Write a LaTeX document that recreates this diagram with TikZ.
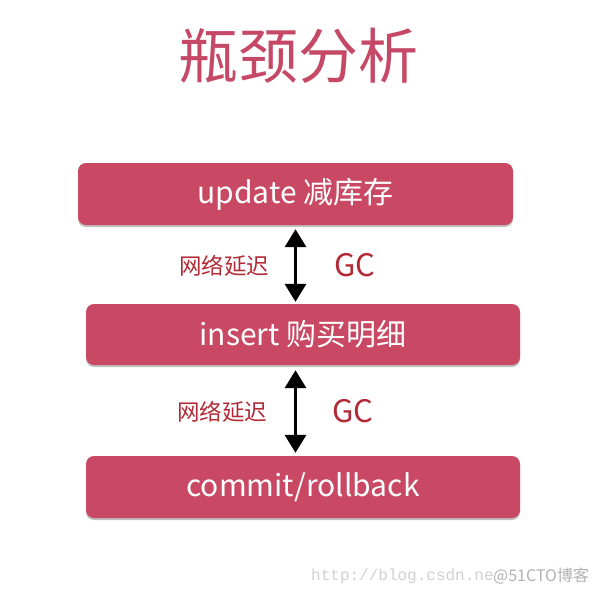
\documentclass[tikz,border=0pt]{standalone}
\usepackage{fontspec}
\setmainfont{Noto Sans CJK SC}
\newfontfamily\cjk{Noto Sans CJK SC}
\newfontfamily\wmono{Liberation Mono}
\usetikzlibrary{arrows.meta,shadows}
\definecolor{boxred}{HTML}{C94964}
\definecolor{titlered}{HTML}{C64867}
\definecolor{labelred}{HTML}{B22A35}
\tikzset{
  stagebox/.style={fill=boxred, rounded corners=8pt, text=white,
    font=\cjk\fontsize{30}{34}\selectfont,
    minimum width=434pt, minimum height=61pt, inner sep=0pt,
    drop shadow={shadow xshift=0pt, shadow yshift=-2pt, opacity=0.25, fill=black}},
  dblarrow/.style={line width=3.5pt, {Triangle[width=21pt,length=18pt]}-{Triangle[width=21pt,length=18pt]}},
  latlabel/.style={text=labelred, font=\cjk\fontsize{22.5}{26}\selectfont, inner sep=0pt},
  gclabel/.style={text=labelred, font=\cjk\fontsize{31}{34}\selectfont, inner sep=0pt}
}
\begin{document}
\begin{tikzpicture}[x=1pt,y=-1pt]
\useasboundingbox[fill=white] (0,0) rectangle (602,595);
\node[text=titlered, font=\cjk\fontsize{60}{66}\selectfont, inner sep=0pt] (title) at (298,56) {瓶颈分析};
\node[stagebox, minimum width=435pt, minimum height=62pt] (box1) at (295.5,194) {update 减库存};
\node[stagebox] (box2) at (303,334.5) {insert 购买明细};
\node[stagebox, minimum height=62pt] (box3) at (303,487) {commit/rollback};
\draw[dblarrow] ([yshift=-4pt]box1.south) -- ([yshift=2pt]box2.north -| box1.south);
\draw[dblarrow] ([yshift=-5pt]box2.south -| box1.south) -- ([yshift=3pt]box3.north -| box1.south);
\node[latlabel] (lat1) at (224,266) {网络延迟};
\node[gclabel] (gc1) at (355,265) {GC};
\node[latlabel] (lat2) at (222,412) {网络延迟};
\node[gclabel] (gc2) at (353,411) {GC};
\node[text=black!18, font=\wmono\fontsize{16}{19}\selectfont, anchor=west, inner sep=0pt] (wm1) at (311,576) {http://blog.csdn.ne};
\node[text=black!30, font=\cjk\fontsize{16}{19}\selectfont, anchor=west, inner sep=0pt] (wm2) at (493,576) {@51CTO博客};
\end{tikzpicture}
\end{document}
